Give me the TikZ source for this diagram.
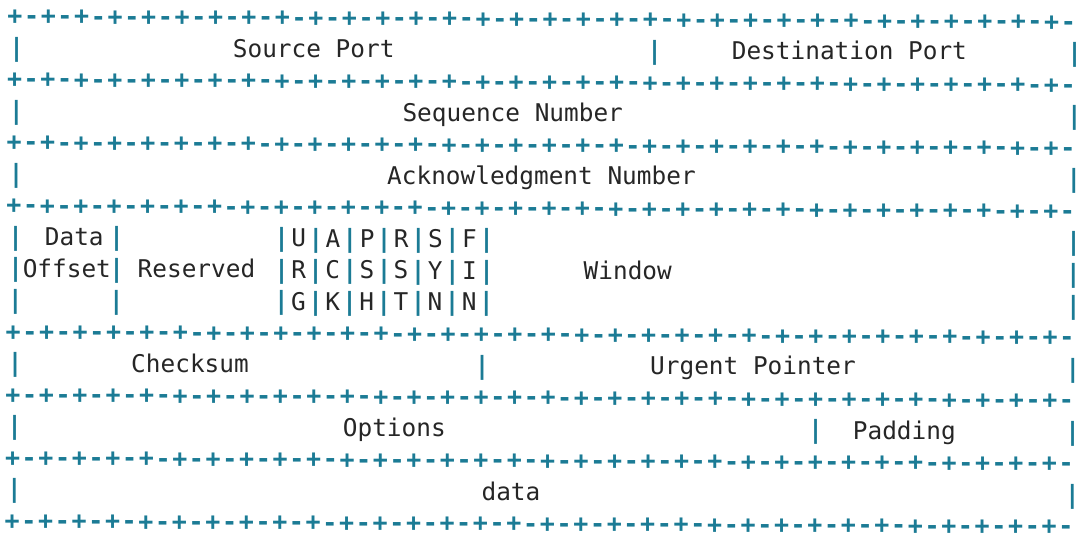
\documentclass[tikz,border=0pt]{standalone}
\usepackage{fontspec}
\setmonofont{DejaVu Sans Mono}
\usepackage{xcolor}
\usetikzlibrary{positioning}
\definecolor{hdrteal}{HTML}{1B7B95}
\definecolor{hdrink}{HTML}{262626}
\newcommand{\yrow}[1]{24.5+31.55*#1}

\begin{document}
\begin{tikzpicture}[
      x=1pt, y=-1pt,
      lbl/.style={anchor=base west,inner sep=0pt,text=hdrink,font=\ttfamily\fontsize{24.4}{26}\selectfont},
      flagtxt/.style={lbl,anchor=base},
      bar/.style={anchor=base,inner sep=0pt,text=hdrteal,font=\ttfamily\bfseries\fontsize{25}{26}\selectfont},
      rulechar/.style={anchor=base,inner sep=0pt,text=hdrteal,font=\ttfamily\bfseries\fontsize{25}{26}\selectfont}
    ]
    \useasboundingbox[fill=white] (0,0) rectangle (1081,541);
    \begin{scope}[rotate=-0.3]
    % +-+- rows
    \foreach \r in {0,2,4,6,10,12,14,16} {
      \foreach \k in {0,...,31}
        \node[rulechar] (p\r-\k) at ({15+33.45*\k},{\yrow{\r}}) {+};
      \foreach \k in {0,...,31}
        \node[rulechar] (d\r-\k) at ({31.7+33.45*\k},{\yrow{\r}}) {-};
    }
    % outer bars
    \foreach \r in {1,3,5,7,8,9,11,13,15} {
      \node[bar] (l\r) at (17,{\yrow{\r}}) {|};
      \node[bar] (r\r) at (1075,{\yrow{\r}}) {|};
    }
    % inner bars
    \node[bar] (b1) at (655,{\yrow{1}}) {|};
    \node[bar] (b11) at (484,{\yrow{11}}) {|};
    \node[bar] (b13) at (818,{\yrow{13}}) {|};
    \foreach \r in {7,8,9} {
      \node[bar] (off\r) at (118,{\yrow{\r}}) {|};
      \foreach \x [count=\i] in {283,317.2,351.3,385.5,419.7,453.8,488}
        \node[bar] (fb\r-\i) at (\x,{\yrow{\r}}) {|};
    }
    % flags
    \foreach \ta/\tb/\tc [count=\i from 0] in {U/R/G,A/C/K,P/S/H,R/S/T,S/Y/N,F/I/N} {
      \node[flagtxt] (fa\i) at ({300.1+34.15*\i},{\yrow{7}}) {\ta};
      \node[flagtxt] (fm\i) at ({300.1+34.15*\i},{\yrow{8}}) {\tb};
      \node[flagtxt] (fz\i) at ({300.1+34.15*\i},{\yrow{9}}) {\tc};
    }
    % field names
    \node[lbl] (src) at (233,{\yrow{1}}) {Source Port};
    \node[lbl] (dst) at (732,{\yrow{1}}) {Destination Port};
    \node[lbl] (seq) at (403,{\yrow{3}}) {Sequence Number};
    \node[lbl] (ack) at (388,{\yrow{5}}) {Acknowledgment Number};
    \node[lbl] (doff) at (46,{\yrow{7}}) {Data};
    \node[lbl] (doff2) at (24,{\yrow{8}}) {Offset};
    \node[lbl] (rsv) at (139,{\yrow{8}}) {Reserved};
    \node[lbl] (win) at (585,{\yrow{8}}) {Window};
    \node[lbl] (chk) at (133,{\yrow{11}}) {Checksum};
    \node[lbl] (urg) at (652,{\yrow{11}}) {Urgent Pointer};
    \node[lbl] (opt) at (345,{\yrow{13}}) {Options};
    \node[lbl] (pad) at (855,{\yrow{13}}) {Padding};
    \node[lbl] (dat) at (484,{\yrow{15}}) {data};
    \end{scope}
  \end{tikzpicture}
\end{document}
